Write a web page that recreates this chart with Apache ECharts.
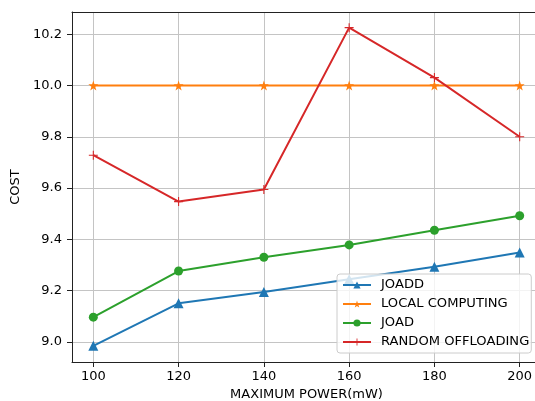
<!DOCTYPE html>
<html>
<head>
<meta charset="utf-8">
<script src="https://cdn.jsdelivr.net/npm/echarts@6/dist/echarts.min.js"></script>
<style>
  html, body { margin: 0; padding: 0; background: #fff; }
  #charts { width: 535px; height: 401px; }
</style>
</head>
<body>
<div id="charts"></div>
<script>
// 数据
var powers = [100, 120, 140, 160, 180, 200];
var xTicks = [100, 120, 140, 160, 180, 200];
var yTicks = [9.0, 9.2, 9.4, 9.6, 9.8, 10.0, 10.2];
var joadd = [8.984, 9.150, 9.194, 9.244, 9.293, 9.348];
var localComputing = [10.0, 10.0, 10.0, 10.0, 10.0, 10.0];
var joad = [9.096, 9.276, 9.330, 9.378, 9.435, 9.492];
var randomOffloading = [9.728, 9.547, 9.594, 10.226, 10.031, 9.800];

var font = 'DejaVu Sans';
var starPath = 'path://M100,0 L122.45,69.1 L195.1,69.1 L136.3,111.8 L158.8,180.9 L100,138.2 L41.2,180.9 L63.7,111.8 L4.9,69.1 L77.55,69.1 Z';
var plusPath = 'path://M4.4,0 L5.6,0 L5.6,4.4 L10,4.4 L10,5.6 L5.6,5.6 L5.6,10 L4.4,10 L4.4,5.6 L0,5.6 L0,4.4 L4.4,4.4 Z';

function pairs(ys) {
  return powers.map(function (x, i) { return [x, ys[i]]; });
}

function makeSeries(name, ys, color, symbol, size) {
  return {
    name: name,
    type: 'line',
    data: pairs(ys),
    symbol: symbol,
    symbolSize: size,
    showAllSymbol: true,
    itemStyle: { color: color },
    lineStyle: { color: color, width: 2 },
    emphasis: { disabled: true },
    animation: false
  };
}

var myChart = echarts.init(document.getElementById('charts'));

var option = {
  animation: false,
  textStyle: { fontFamily: font },
  grid: { left: 72, top: 12, width: 469, height: 350, show: false, containLabel: false, outerBoundsMode: 'none' },
  legend: {
    orient: 'vertical',
    left: 337,
    top: 274,
    padding: [4, 2, 4, 5],
    itemGap: 5,
    itemWidth: 28,
    itemHeight: 9,
    backgroundColor: 'rgba(255,255,255,0.8)',
    borderColor: '#cccccc',
    borderWidth: 1,
    borderRadius: 3,
    textStyle: { fontFamily: font, fontSize: 13.1, color: '#000', lineHeight: 14, padding: [0, 0, 0, 5] },
    data: ['JOADD', 'LOCAL COMPUTING', 'JOAD', 'RANDOM OFFLOADING']
  },
  xAxis: [{
    type: 'value',
    min: 95,
    max: 205,
    name: 'MAXIMUM POWER(mW)',
    nameLocation: 'middle',
    nameGap: 24,
    nameTextStyle: { fontFamily: font, fontSize: 13, color: '#000' },
    axisLine: { show: true, lineStyle: { color: '#222' } },
    axisTick: { show: true, length: 5, customValues: xTicks, lineStyle: { color: '#222' } },
    axisLabel: { margin: 8, fontSize: 13, color: '#000', customValues: xTicks },
    splitLine: { show: true, lineStyle: { color: '#c4c4c4', width: 1 } }
  }, {
    // 上边框
    type: 'value',
    position: 'top',
    min: 95,
    max: 205,
    axisLine: { show: true, onZero: false, lineStyle: { color: '#222' } },
    axisTick: { show: false },
    axisLabel: { show: false },
    splitLine: { show: false }
  }],
  yAxis: {
    type: 'value',
    min: 8.921,
    max: 10.287,
    name: 'COST',
    nameLocation: 'middle',
    nameGap: 38,
    nameTextStyle: { fontFamily: font, fontSize: 13, color: '#000' },
    axisLine: { show: true, onZero: false, lineStyle: { color: '#222' } },
    axisTick: { show: true, length: 5, customValues: yTicks, lineStyle: { color: '#222' } },
    axisLabel: { margin: 10, fontSize: 13, color: '#000', customValues: yTicks,
      formatter: function (v) { return v.toFixed(1); } },
    splitLine: { show: true, lineStyle: { color: '#c4c4c4', width: 1 } }
  },
  series: [
    makeSeries('JOADD', joadd, '#1f77b4', 'triangle', 10),
    makeSeries('LOCAL COMPUTING', localComputing, '#ff7f0e', starPath, 10),
    makeSeries('JOAD', joad, '#2ca02c', 'circle', 9),
    makeSeries('RANDOM OFFLOADING', randomOffloading, '#d62728', plusPath, 9)
  ]
};

myChart.setOption(option);
</script>
</body>
</html>
